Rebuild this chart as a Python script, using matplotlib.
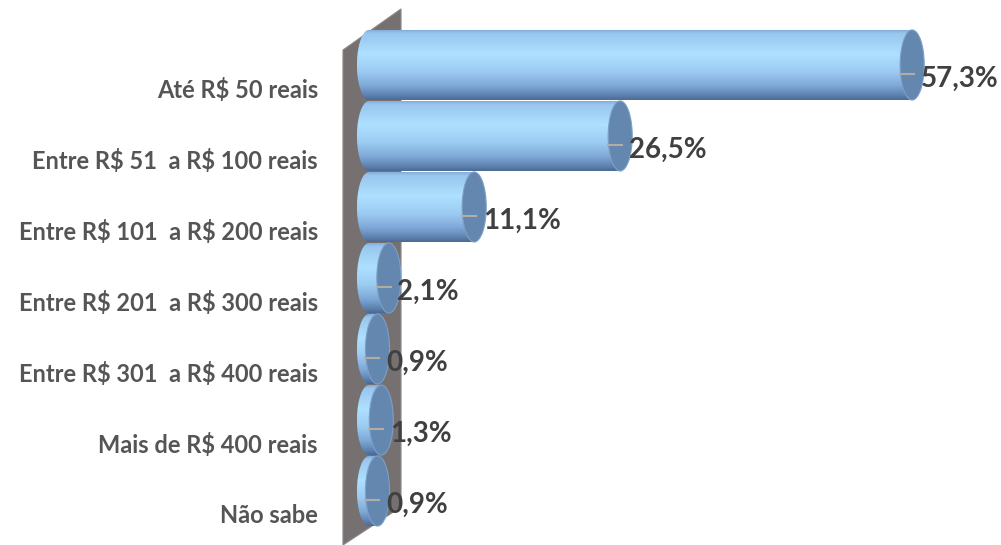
import numpy as np
import matplotlib.pyplot as plt
from matplotlib.patches import Ellipse, Polygon, PathPatch
from matplotlib.path import Path
from matplotlib.colors import LinearSegmentedColormap

plt.rcParams['text.parse_math'] = False

categories = ['Até R$ 50 reais',
              'Entre R$ 51  a R$ 100 reais',
              'Entre R$ 101  a R$ 200 reais',
              'Entre R$ 201  a R$ 300 reais',
              'Entre R$ 301  a R$ 400 reais',
              'Mais de R$ 400 reais',
              'Não sabe']
values = [57.3, 26.5, 11.1, 2.1, 0.9, 1.3, 0.9]
value_labels = ['57,3%', '26,5%', '11,1%', '2,1%', '0,9%', '1,3%', '0,9%']

TXT = '#404040'
CAT_TXT = '#555555'
CAP = '#6487b0'
WALL = '#767170'

# vertical shading of the cylinder side (top -> bottom)
side_cmap = LinearSegmentedColormap.from_list('side', [
    (0.00, '#7ea6d2'), (0.06, '#98c6ee'), (0.35, '#aee0ff'),
    (0.60, '#9ccbf2'), (0.80, '#7ea8d6'), (0.93, '#5f83b0'),
    (1.00, '#4b6a94')])

fig = plt.figure(figsize=(10.01, 5.45), dpi=100)
ax = fig.add_axes([0, 0, 1, 1])
ax.set_xlim(-38.92, 66.67)
ax.set_ylim(6.76, -0.915)
ax.axis('off')

half_h = 0.493   # half bar thickness (category units)
rx = 1.27        # x radius of the end caps (percent units)

# side wall
wall = Polygon([(-2.74, -0.211), (3.38, -0.789), (3.38, 6.225), (-2.74, 6.76)],
               closed=True, facecolor=WALL, edgecolor='#8c8888', lw=0.8, zorder=1)
ax.add_patch(wall)

grad = np.linspace(0, 1, 256).reshape(-1, 1)

for i, (v, lab) in enumerate(zip(values, value_labels)):
    top, bot = i - half_h, i + half_h
    # outline of side: back half-ellipse at 0 plus the body up to v
    t = np.linspace(np.pi / 2, 3 * np.pi / 2, 40)
    back = np.column_stack([rx * np.cos(t), i - half_h * np.sin(t)])
    verts = np.vstack([[(v, top)], back, [(v, bot)], [(v, top)]])
    body = PathPatch(Path(verts), facecolor='none', edgecolor='none', zorder=2)
    ax.add_patch(body)
    im = ax.imshow(grad, cmap=side_cmap, aspect='auto', origin='upper',
                   extent=[-rx, v + rx, bot, top], zorder=2, interpolation='bilinear')
    im.set_clip_path(body)
    # front end cap
    ax.add_patch(Ellipse((v, i), 2 * rx, 2 * half_h, facecolor=CAP,
                         edgecolor='#7d9fc6', lw=0.8, zorder=3))
    # leader line
    ax.plot([v - 1.3, v + 0.2], [i + 0.13, i + 0.13], color='#b3aca5', lw=1.5, zorder=4)
    ax.text(v + 0.9, i + 0.19, lab, ha='left', va='center', fontsize=20,
            fontweight='bold', color=TXT, family='Lato', zorder=5)
    ax.text(-5.38, i + 0.35, categories[i], ha='right', va='center', fontsize=17,
            fontweight='bold', color=CAT_TXT, family='Lato')

fig.savefig('out.png', dpi=100)
